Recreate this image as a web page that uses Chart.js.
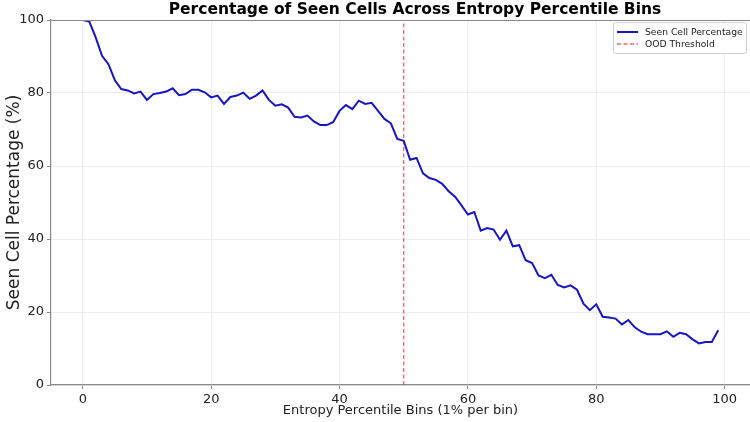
<!DOCTYPE html>
<html>
<head>
<meta charset="utf-8">
<script src="https://cdn.jsdelivr.net/npm/chart.js@4.4.0/dist/chart.umd.min.js"></script>
<style>
html,body{margin:0;padding:0;background:#fff;}
#wrap{width:750px;height:422px;position:relative;}
</style>
</head>
<body>
<div id="wrap"><canvas id="c" width="750" height="422"></canvas></div>
<script>
const bins = [0,1,2,3,4,5,6,7,8,9,10,11,12,13,14,15,16,17,18,19,20,21,22,23,24,25,26,27,28,29,30,31,32,33,34,35,36,37,38,39,40,41,42,43,44,45,46,47,48,49,50,51,52,53,54,55,56,57,58,59,60,61,62,63,64,65,66,67,68,69,70,71,72,73,74,75,76,77,78,79,80,81,82,83,84,85,86,87,88,89,90,91,92,93,94,95,96,97,98,99];
const seenPct = [100,99.6,95.3,90.2,87.9,83.5,81.1,80.7,79.9,80.4,
  78.1,79.7,80.0,80.4,81.3,79.4,79.7,80.9,80.9,80.2,
  78.8,79.3,77.0,78.9,79.3,80.1,78.4,79.3,80.7,78.1,
  76.5,76.9,76.0,73.5,73.3,73.8,72.2,71.2,71.2,72.0,
  75.1,76.7,75.6,77.9,77.0,77.3,75.1,72.9,71.7,67.4,
  66.9,61.7,62.2,58.0,56.7,56.2,55.1,53.1,51.6,49.2,
  46.7,47.4,42.3,43.0,42.6,39.8,42.3,38.0,38.3,34.2,
  33.4,30.0,29.3,30.2,27.4,26.7,27.3,26.1,22.3,20.5,
  22.1,18.7,18.5,18.2,16.6,17.8,15.8,14.6,13.9,13.9,
  13.9,14.7,13.2,14.3,13.9,12.5,11.4,11.8,11.8,15.0];
const oodX = [50, 50];
const oodY = [0, 100];
const xTicks = [0, 20, 40, 60, 80, 100];
const yTicks = [0, 20, 40, 60, 80, 100];
const titleText = 'Percentage of Seen Cells Across Entropy Percentile Bins';
const xTitle = 'Entropy Percentile Bins (1% per bin)';
const yTitle = 'Seen Cell Percentage (%)';
const seriesLabels = ['Seen Cell Percentage', 'OOD Threshold'];

const FONT = "'DejaVu Sans', 'Liberation Sans', sans-serif";
const lineColor = '#1616c4';
const oodColor = 'rgba(226, 80, 80, 0.85)';
const spineColor = '#8a8a8a';
const gridColor = '#ececec';

const extras = {
  id: 'extras',
  afterDraw(chart) {
    const ctx = chart.ctx;
    const a = chart.chartArea;
    ctx.save();
    ctx.strokeStyle = spineColor;
    ctx.lineWidth = 1.2;
    ctx.beginPath();
    ctx.moveTo(a.left, a.top + 0.5);
    ctx.lineTo(a.right, a.top + 0.5);
    ctx.stroke();
    ctx.fillStyle = '#000';
    ctx.font = "bold 15.5px " + FONT;
    ctx.textAlign = 'center';
    ctx.textBaseline = 'middle';
    ctx.fillText(titleText, 415, 10);
    const bx = 613, by = 22, bw = 133, bh = 31;
    ctx.fillStyle = 'rgba(255,255,255,0.85)';
    ctx.strokeStyle = '#d0d0d0';
    ctx.lineWidth = 1;
    ctx.beginPath();
    if (ctx.roundRect) ctx.roundRect(bx + 0.5, by + 0.5, bw, bh, 2); else ctx.rect(bx + 0.5, by + 0.5, bw, bh);
    ctx.fill();
    ctx.stroke();
    const ds = chart.data.datasets;
    ctx.font = "9.2px " + FONT;
    ctx.textAlign = 'left';
    ctx.textBaseline = 'middle';
    for (let i = 0; i < ds.length; i++) {
      const yy = by + 10 + i * 12;
      ctx.strokeStyle = ds[i].borderColor;
      ctx.lineWidth = ds[i].borderWidth;
      ctx.setLineDash(ds[i].borderDash || []);
      ctx.beginPath();
      ctx.moveTo(bx + 4, yy);
      ctx.lineTo(bx + 25, yy);
      ctx.stroke();
      ctx.setLineDash([]);
      ctx.fillStyle = '#222';
      ctx.fillText(ds[i].label, bx + 32, yy + 0.5);
    }
    ctx.restore();
  }
};

new Chart(document.getElementById('c'), {
  type: 'line',
  data: {
    datasets: [
      {
        label: seriesLabels[0],
        data: bins.map((b, i) => ({x: b, y: seenPct[i]})),
        borderColor: lineColor,
        borderWidth: 2,
        pointRadius: 0,
        tension: 0,
        fill: false
      },
      {
        label: seriesLabels[1],
        data: oodX.map((v, i) => ({x: v, y: oodY[i]})),
        borderColor: oodColor,
        borderWidth: 1.3,
        borderDash: [4, 2.5],
        pointRadius: 0,
        fill: false
      }
    ]
  },
  options: {
    responsive: false,
    animation: false,
    layout: {padding: {left: 0, right: 0, top: 20, bottom: 0}},
    plugins: {
      legend: {display: false},
      title: {display: false},
      tooltip: {enabled: false}
    },
    scales: {
      x: {
        type: 'linear',
        min: -4.95,
        max: 103.95,
        afterBuildTicks: (s) => { s.ticks = xTicks.map(v => ({value: v})); },
        afterFit: (s) => { s.height = 37; },
        grid: {color: gridColor, lineWidth: 1, drawTicks: true, tickLength: 4, tickColor: spineColor},
        border: {color: spineColor, width: 1.2},
        ticks: {color: '#222', font: {family: FONT, size: 13}, padding: 3, maxRotation: 0},
        title: {display: true, text: xTitle, color: '#222', font: {family: FONT, size: 13}, padding: {top: 0, bottom: 4}}
      },
      y: {
        type: 'linear',
        min: 0,
        max: 100,
        afterBuildTicks: (s) => { s.ticks = yTicks.map(v => ({value: v})); },
        afterFit: (s) => { s.width = 51; },
        grid: {color: gridColor, lineWidth: 1, drawTicks: true, tickLength: 4, tickColor: spineColor},
        border: {color: spineColor, width: 1.2},
        ticks: {color: '#222', font: {family: FONT, size: 13}, padding: 3},
        title: {display: true, text: yTitle, color: '#222', font: {family: FONT, size: 17}, padding: {top: 4, bottom: 0}}
      }
    }
  },
  plugins: [extras]
});
</script>
</body>
</html>
